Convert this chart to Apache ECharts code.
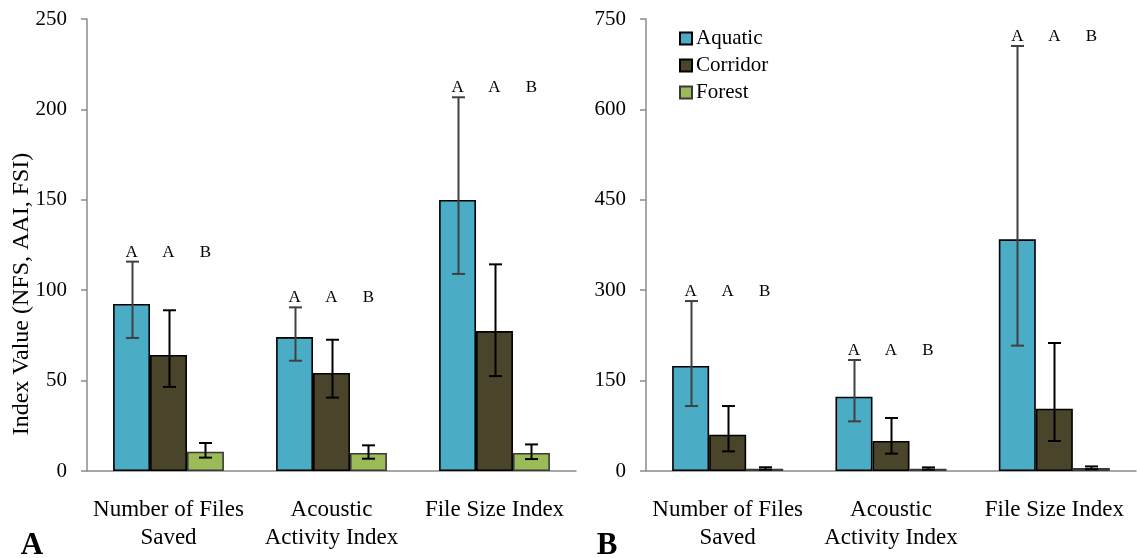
<!DOCTYPE html>
<html>
<head>
<meta charset="utf-8">
<script src="https://cdn.jsdelivr.net/npm/echarts@6/dist/echarts.min.js"></script>
<style>
  html, body { margin: 0; padding: 0; background: #fff; }
  #chart { width: 1137px; height: 558px; }
</style>
</head>
<body>
<div id="chart"></div>
<script>
// Categories and habitat groups
const categories = ['Number of Files\nSaved', 'Acoustic\nActivity Index', 'File Size Index'];
const habitats = ['Aquatic', 'Corridor', 'Forest'];
const groupLetters = ['A', 'A', 'B'];

// Panel A: means with lower / upper error limits
const aquaticA = [92.4, 74.1, 149.9];
const aquaticALow = [73.6, 61.0, 109.0];
const aquaticAHigh = [115.8, 90.5, 206.7];
const corridorA = [64.2, 54.2, 77.4];
const corridorALow = [46.5, 40.6, 52.5];
const corridorAHigh = [88.9, 72.6, 114.3];
const forestA = [10.7, 10.0, 10.0];
const forestALow = [7.4, 6.8, 6.6];
const forestAHigh = [15.5, 14.2, 14.7];

// Panel B: means with lower / upper error limits
const aquaticB = [174.2, 123.3, 384.4];
const aquaticBLow = [107.8, 82.4, 208.0];
const aquaticBHigh = [282.0, 184.2, 705.2];
const corridorB = [60.3, 49.8, 103.4];
const corridorBLow = [32.6, 28.8, 49.8];
const corridorBHigh = [107.8, 87.9, 212.4];
const forestB = [3.9, 3.9, 5.0];
const forestBLow = [2.2, 2.2, 2.8];
const forestBHigh = [6.2, 6.0, 7.6];

// Y axis ranges
const yMaxA = 250, yStepA = 50;
const yMaxB = 750, yStepB = 150;

const SERIF = "'Liberation Serif', 'Times New Roman', serif";
const COLORS = ['#4BACC6', '#4A442A', '#9BBB59'];
const BORDERS = ['#000000', '#000000', '#3a3a3a'];
const ERR_COLORS = ['#404040', '#000000', '#000000'];
const CAT_GAP = 0.32;
const AXIS_GRAY = '#8c8c8c';

const chart = echarts.init(document.getElementById('chart'));

function barOffset(api, idx) {
  const band = api.size([1, 0])[0];
  const barW = band * (1 - CAT_GAP) / habitats.length;
  return (idx - (habitats.length - 1) / 2) * barW;
}

function barSeries(panel, idx, values) {
  return {
    name: habitats[idx],
    type: 'bar',
    xAxisIndex: panel,
    yAxisIndex: panel,
    data: values,
    barGap: '0%',
    barCategoryGap: (CAT_GAP * 100) + '%',
    itemStyle: { color: COLORS[idx], borderColor: BORDERS[idx], borderWidth: 1.6 },
    emphasis: { disabled: true },
    animation: false
  };
}

function errorSeries(panel, idx, lows, highs) {
  return {
    type: 'custom',
    xAxisIndex: panel,
    yAxisIndex: panel,
    data: lows.map((lo, i) => [i, lo, highs[i]]),
    z: 10,
    silent: true,
    animation: false,
    renderItem: function (params, api) {
      const cat = api.value(0);
      const lo = api.coord([cat, api.value(1)]);
      const hi = api.coord([cat, api.value(2)]);
      const x = Math.round(lo[0] + barOffset(api, idx)) + 0.5;
      const cap = 6.5;
      const style = { stroke: ERR_COLORS[idx], lineWidth: 2 };
      return {
        type: 'group',
        children: [
          { type: 'line', shape: { x1: x, y1: lo[1], x2: x, y2: hi[1] }, style: style },
          { type: 'line', shape: { x1: x - cap, y1: hi[1], x2: x + cap, y2: hi[1] }, style: style },
          { type: 'line', shape: { x1: x - cap, y1: lo[1], x2: x + cap, y2: lo[1] }, style: style }
        ]
      };
    }
  };
}

function letterSeries(panel, highLists) {
  const tops = categories.map((c, i) => Math.max.apply(null, highLists.map(h => h[i])));
  return {
    type: 'custom',
    xAxisIndex: panel,
    yAxisIndex: panel,
    data: tops.map((t, i) => [i, t]),
    z: 11,
    silent: true,
    animation: false,
    renderItem: function (params, api) {
      const cat = api.value(0);
      const p = api.coord([cat, api.value(1)]);
      return {
        type: 'group',
        children: groupLetters.map((letter, k) => ({
          type: 'text',
          x: p[0] + barOffset(api, k),
          y: p[1] - 1,
          style: {
            text: letter,
            font: '17px ' + SERIF,
            fill: '#000',
            align: 'center',
            verticalAlign: 'bottom'
          }
        }))
      };
    }
  };
}

function xAxisFor(panel) {
  return {
    type: 'category',
    gridIndex: panel,
    data: categories,
    axisLine: { lineStyle: { color: AXIS_GRAY, width: 1.5 } },
    axisTick: { show: false },
    axisLabel: {
      interval: 0,
      margin: 25,
      color: '#000',
      fontFamily: SERIF,
      fontSize: 23,
      lineHeight: 28
    }
  };
}

function yAxisFor(panel, max, step) {
  return {
    type: 'value',
    gridIndex: panel,
    min: 0,
    max: max,
    interval: step,
    splitLine: { show: false },
    axisLine: { show: true, lineStyle: { color: AXIS_GRAY, width: 1.5 } },
    axisTick: { show: true, length: 6, lineStyle: { color: AXIS_GRAY, width: 1.5 } },
    axisLabel: { color: '#000', fontFamily: SERIF, fontSize: 21, margin: 20 }
  };
}

const option = {
  backgroundColor: '#fff',
  animation: false,
  grid: [
    { left: 87, top: 19, width: 489, bottom: 87, containLabel: false },
    { left: 646, top: 19, width: 490, bottom: 87, containLabel: false }
  ],
  legend: {
    data: habitats,
    orient: 'vertical',
    left: 674,
    top: 23,
    itemWidth: 12,
    itemHeight: 12,
    itemGap: 6,
    icon: 'rect',
    selectedMode: false,
    textStyle: { fontFamily: SERIF, fontSize: 21, color: '#000', padding: [0, 0, 0, -1] }
  },
  xAxis: [xAxisFor(0), xAxisFor(1)],
  yAxis: [yAxisFor(0, yMaxA, yStepA), yAxisFor(1, yMaxB, yStepB)],
  series: [
    barSeries(0, 0, aquaticA),
    barSeries(0, 1, corridorA),
    barSeries(0, 2, forestA),
    errorSeries(0, 0, aquaticALow, aquaticAHigh),
    errorSeries(0, 1, corridorALow, corridorAHigh),
    errorSeries(0, 2, forestALow, forestAHigh),
    letterSeries(0, [aquaticAHigh, corridorAHigh, forestAHigh]),
    barSeries(1, 0, aquaticB),
    barSeries(1, 1, corridorB),
    barSeries(1, 2, forestB),
    errorSeries(1, 0, aquaticBLow, aquaticBHigh),
    errorSeries(1, 1, corridorBLow, corridorBHigh),
    errorSeries(1, 2, forestBLow, forestBHigh),
    letterSeries(1, [aquaticBHigh, corridorBHigh, forestBHigh])
  ],
  graphic: [
    {
      type: 'text',
      x: 22,
      y: 294,
      rotation: Math.PI / 2,
      style: {
        text: 'Index Value (NFS, AAI, FSI)',
        font: '24px ' + SERIF,
        fill: '#000',
        align: 'center',
        verticalAlign: 'middle'
      }
    },
    {
      type: 'text',
      x: 32,
      y: 546,
      style: { text: 'A', font: 'bold 31px ' + SERIF, fill: '#000', align: 'center', verticalAlign: 'middle' }
    },
    {
      type: 'text',
      x: 607,
      y: 546,
      style: { text: 'B', font: 'bold 31px ' + SERIF, fill: '#000', align: 'center', verticalAlign: 'middle' }
    }
  ]
};

chart.setOption(option);
</script>
</body>
</html>
